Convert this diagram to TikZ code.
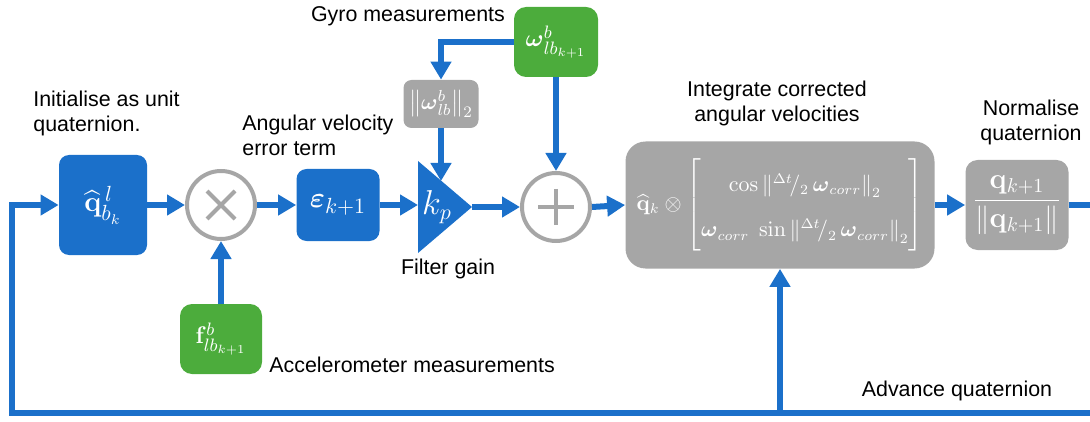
\documentclass[tikz,border=0pt]{standalone}
\usepackage{amsmath}
\usepackage[no-math]{fontspec}
\setmainfont{Liberation Sans}
\usetikzlibrary{arrows.meta,shapes.geometric,calc}
\definecolor{fblue}{RGB}{27,112,202}
\definecolor{fgray}{RGB}{166,166,166}
\definecolor{fgreen}{RGB}{76,172,60}
\tikzset{
  conn/.style={draw=fblue, line width=3pt, -{Triangle[length=9pt,width=10pt]}},
  plain/.style={draw=fblue, line width=3pt},
  bluebox/.style={fill=fblue, rounded corners=5pt, text=white, inner sep=0pt, align=center},
  graybox/.style={fill=fgray, rounded corners=6pt, text=white, inner sep=0pt, align=center},
  greenbox/.style={fill=fgreen, rounded corners=6pt, text=white, inner sep=0pt, align=center},
  opcircle/.style={circle, draw=fgray, line width=2pt, fill=white, inner sep=0pt},
  opline/.style={draw=fgray, line width=2pt},
  lbl/.style={font=\fontsize{10.7}{12.5}\selectfont, text=black, inner sep=0pt}
}
\begin{document}
\begin{tikzpicture}[x=0.5pt, y=-0.5pt]
\useasboundingbox (0,0) rectangle (1090,422);
% nodes
\node[bluebox, minimum width=44pt, minimum height=50pt, font=\fontsize{15}{17}\selectfont] (qb) at (103,205) {$\widehat{\mathbf{q}}^{\,l}_{b_k}$};
\node[opcircle, minimum size=34pt] (mul) at (221,205) {};
\draw[opline] ([shift={(-14,-14)}]mul.center) -- ([shift={(14,14)}]mul.center);
\draw[opline] ([shift={(-14,14)}]mul.center) -- ([shift={(14,-14)}]mul.center);
\node[bluebox, minimum width=41.5pt, minimum height=36pt, font=\fontsize{15}{17}\selectfont] (eps) at (338,205) {$\boldsymbol{\varepsilon}_{k+1}$};
\node[isosceles triangle, isosceles triangle stretches, shape border rotate=0, fill=fblue, minimum width=46pt, minimum height=27pt, inner sep=0pt, outer sep=0pt, anchor=lower side] (kp) at (418,207) {};
\node[text=white, inner sep=0pt, font=\fontsize{16}{18}\selectfont] (kpt) at (437,207) {$k_p$};
\coordinate (kptop) at (441,181);
\node[graybox, rounded corners=4pt, minimum width=37.5pt, minimum height=24pt, font=\fontsize{11}{13}\selectfont] (nrm) at (441,104) {$\left\|\boldsymbol{\omega}^{b}_{lb}\right\|_2$};
\node[greenbox, minimum width=42pt, minimum height=35pt, font=\fontsize{13}{15}\selectfont] (gyro) at (556,42) {$\boldsymbol{\omega}^{b}_{lb_{k+1}}$};
\node[opcircle, minimum size=34pt] (plus) at (556,207) {};
\draw[opline] ([shift={(-18,0)}]plus.center) -- ([shift={(18,0)}]plus.center);
\draw[opline] ([shift={(0,-18)}]plus.center) -- ([shift={(0,18)}]plus.center);
\node[graybox, rounded corners=10pt, minimum width=154.5pt, minimum height=63.5pt, font=\fontsize{10.5}{12}\selectfont] (big) at (780,205)
  {$\widehat{\mathbf{q}}_k \otimes \renewcommand{\arraystretch}{1.9}\begin{bmatrix} \cos\left\|{}^{\Delta t}\!/_{2}\,\boldsymbol{\omega}_{corr}\right\|_2 \\ \boldsymbol{\omega}_{corr}\;\sin\left\|{}^{\Delta t}\!/_{2}\,\boldsymbol{\omega}_{corr}\right\|_2 \end{bmatrix}$};
\node[graybox, minimum width=51.5pt, minimum height=45pt, font=\fontsize{14}{16}\selectfont] (norm) at (1017,205) {$\dfrac{\mathbf{q}_{k+1}}{\left\|\mathbf{q}_{k+1}\right\|}$};
\node[greenbox, minimum width=41pt, minimum height=35pt, font=\fontsize{13}{15}\selectfont] (acc) at (221,339) {$\mathbf{f}^{b}_{lb_{k+1}}$};
% edge coordinates
\coordinate (outR) at (1090,205);
\coordinate (botR) at (1090,413);
\coordinate (botL) at (12,413);
\coordinate (botB) at (780,413);
% connectors
\draw[conn] (qb.east) -- (mul.west);
\draw[conn] (mul.east) -- (eps.west);
\draw[conn] (eps.east) -- (eps.east -| kp.lower side);
\draw[conn] (kp.apex) -- (kp.apex -| plus.west);
\draw[conn] (plus.east) -- (big.west);
\draw[conn] (big.east) -- (norm.west);
\draw[plain] (norm.east) -- (outR);
\draw[conn] (acc.north) -- (mul.south);
\draw[conn] (gyro.west) -| (nrm.north);
\draw[conn] (gyro.south) -- (plus.north);
\draw[conn] (nrm.south) -- (kptop);
\draw[conn] (botR) -- (botL) |- (qb.west);
\draw[conn] (botB) -- (big.south);
% labels
\node[lbl, anchor=west, align=left] (l1) at (33,113) {Initialise as unit\\quaternion.};
\node[lbl, anchor=west, align=left] (l2) at (242,135) {Angular velocity\\error term};
\node[lbl] (l3) at (408,16) {Gyro measurements};
\node[lbl] (l4) at (448,269) {Filter gain};
\node[lbl, anchor=west] (l5) at (269,365) {Accelerometer measurements};
\node[lbl, align=center] (l6) at (777,103) {Integrate corrected\\angular velocities};
\node[lbl, align=center] (l7) at (1031,122) {Normalise\\quaternion};
\node[lbl] (l8) at (957,391) {Advance quaternion};
\end{tikzpicture}
\end{document}
